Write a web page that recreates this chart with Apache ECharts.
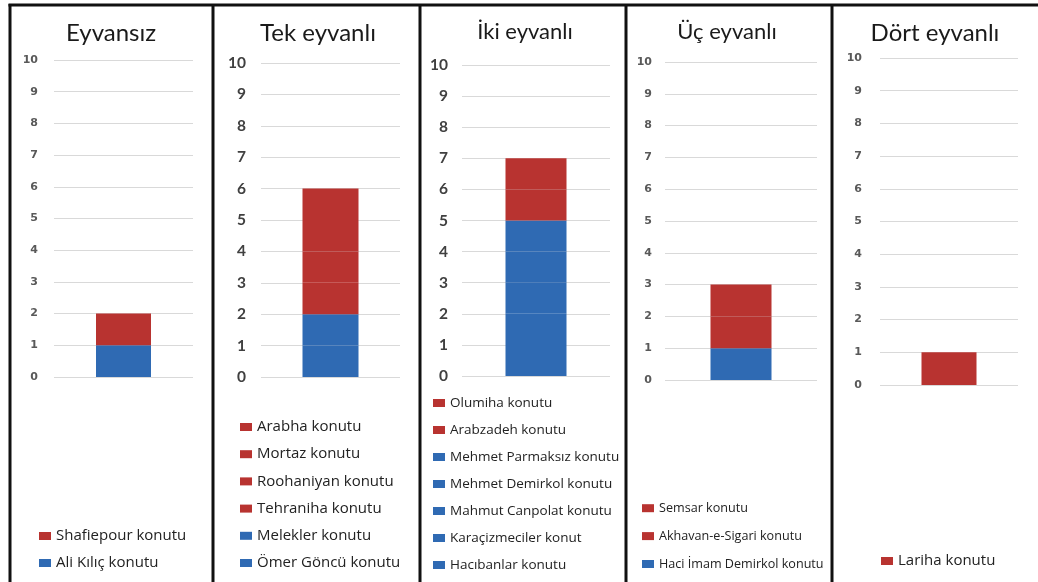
<!DOCTYPE html>
<html>
<head>
<meta charset="utf-8">
<script src="https://cdn.jsdelivr.net/npm/echarts@6/dist/echarts.min.js"></script>
<style>
  html, body { margin: 0; padding: 0; background: #ffffff; }
  #chart { width: 1038px; height: 582px; }
</style>
</head>
<body>
<div id="chart"></div>
<script>
// Panel titles (number of eyvans)
const panelTitles = ['Eyvansız', 'Tek eyvanlı', 'İki eyvanlı', 'Üç eyvanlı', 'Dört eyvanlı'];

// Houses per panel, listed bottom-to-top in each stack
const eyvansizHouses = ['Ali Kılıç konutu', 'Shafiepour konutu'];
const eyvansizCounts = [1, 1];
const eyvansizCountry = ['Türkiye', 'İran'];

const tekHouses = ['Ömer Göncü konutu', 'Melekler konutu', 'Tehraniha konutu', 'Roohaniyan konutu', 'Mortaz konutu', 'Arabha konutu'];
const tekCounts = [1, 1, 1, 1, 1, 1];
const tekCountry = ['Türkiye', 'Türkiye', 'İran', 'İran', 'İran', 'İran'];

const ikiHouses = ['Hacıbanlar konutu', 'Karaçizmeciler konut', 'Mahmut Canpolat konutu', 'Mehmet Demirkol konutu', 'Mehmet Parmaksız konutu', 'Arabzadeh konutu', 'Olumiha konutu'];
const ikiCounts = [1, 1, 1, 1, 1, 1, 1];
const ikiCountry = ['Türkiye', 'Türkiye', 'Türkiye', 'Türkiye', 'Türkiye', 'İran', 'İran'];

const ucHouses = ['Haci İmam Demirkol konutu', 'Akhavan-e-Sigari konutu', 'Semsar konutu'];
const ucCounts = [1, 1, 1];
const ucCountry = ['Türkiye', 'İran', 'İran'];

const dortHouses = ['Lariha konutu'];
const dortCounts = [1];
const dortCountry = ['İran'];

// Value axis ticks
const yMin = 0;
const yMax = 10;
const yStep = 1;

const panelData = [
  [eyvansizHouses, eyvansizCounts, eyvansizCountry],
  [tekHouses, tekCounts, tekCountry],
  [ikiHouses, ikiCounts, ikiCountry],
  [ucHouses, ucCounts, ucCountry],
  [dortHouses, dortCounts, dortCountry]
];

const countryColor = { 'Türkiye': '#2F6AB3', 'İran': '#B83330' };

// Layout of each panel
const layout = [
  { cx: 111, grid: { left: 54, top: 60, width: 139, height: 317 }, bar: 55, titleSize: 24,
    axisFont: { size: 11, family: 'DejaVu Sans', color: '#595959', margin: 16 },
    legend: { left: 39, top: 528.5, size: 15, gap: 12 } },
  { cx: 318, grid: { left: 261, top: 63, width: 139, height: 314 }, bar: 56, titleSize: 24,
    axisFont: { size: 15.5, family: 'Lato', color: '#404040', margin: 15 },
    legend: { left: 240, top: 419.5, size: 15, gap: 12.2 } },
  { cx: 525, grid: { left: 462, top: 65, width: 148, height: 311 }, bar: 61, titleSize: 22,
    axisFont: { size: 15.5, family: 'Lato', color: '#404040', margin: 14 },
    legend: { left: 433, top: 396, size: 13.5, gap: 13 } },
  { cx: 727, grid: { left: 665, top: 62, width: 152, height: 318 }, bar: 61, titleSize: 22,
    axisFont: { size: 11, family: 'DejaVu Sans', color: '#595959', margin: 13 },
    legend: { left: 642, top: 501.7, size: 12.6, gap: 14.9 } },
  { cx: 935, grid: { left: 880, top: 58, width: 138, height: 327 }, bar: 55, titleSize: 24,
    axisFont: { size: 11, family: 'DejaVu Sans', color: '#595959', margin: 18 },
    legend: { left: 881, top: 553.5, size: 15, gap: 12 } }
];

const titles = [], grids = [], xAxes = [], yAxes = [], legends = [], series = [];

panelTitles.forEach(function (title, i) {
  const L = layout[i];
  const [names, counts, country] = panelData[i];

  titles.push({
    text: title,
    left: L.cx,
    top: 21,
    padding: 0,
    textAlign: 'center',
    textStyle: { fontFamily: 'Lato', fontSize: L.titleSize, fontWeight: 'normal', color: '#1a1a1a' }
  });

  grids.push(Object.assign({ containLabel: false }, L.grid));

  xAxes.push({
    type: 'category', gridIndex: i, data: [title],
    axisLine: { show: false }, axisTick: { show: false }, axisLabel: { show: false }
  });

  yAxes.push({
    type: 'value', gridIndex: i, min: yMin, max: yMax, interval: yStep,
    axisLine: { show: false }, axisTick: { show: false },
    axisLabel: {
      fontFamily: L.axisFont.family, fontSize: L.axisFont.size, fontWeight: 'bold',
      color: L.axisFont.color, margin: L.axisFont.margin
    },
    splitLine: { lineStyle: { color: '#d9d9d9', width: 1 } }
  });

  names.forEach(function (name, k) {
    series.push({
      type: 'bar', name: name, stack: 'panel' + i,
      xAxisIndex: i, yAxisIndex: i,
      barWidth: L.bar,
      data: [counts[k]],
      itemStyle: { color: countryColor[country[k]] },
      emphasis: { disabled: true }
    });
  });

  legends.push({
    orient: 'vertical', left: L.legend.left, top: L.legend.top,
    padding: 0, itemWidth: 12, itemHeight: 8, itemGap: L.legend.gap,
    icon: 'rect', selectedMode: false,
    data: names.slice().reverse(),
    textStyle: { fontFamily: 'Open Sans', fontSize: L.legend.size, color: '#222222' }
  });
});

// Panel frames
const frameX = [10, 213, 420, 626, 832];
const frames = frameX.map(function (x) {
  return { type: 'line', shape: { x1: x, y1: 4, x2: x, y2: 582 }, style: { stroke: '#111', lineWidth: 3 }, z: 100 };
});
frames.push({ type: 'line', shape: { x1: 8.5, y1: 5, x2: 1038, y2: 5 }, style: { stroke: '#111', lineWidth: 3 }, z: 100 });

const chart = echarts.init(document.getElementById('chart'), null, { renderer: 'canvas' });
chart.setOption({
  backgroundColor: '#ffffff',
  animation: false,
  title: titles,
  grid: grids,
  xAxis: xAxes,
  yAxis: yAxes,
  legend: legends,
  series: series,
  graphic: frames
});
</script>
</body>
</html>
